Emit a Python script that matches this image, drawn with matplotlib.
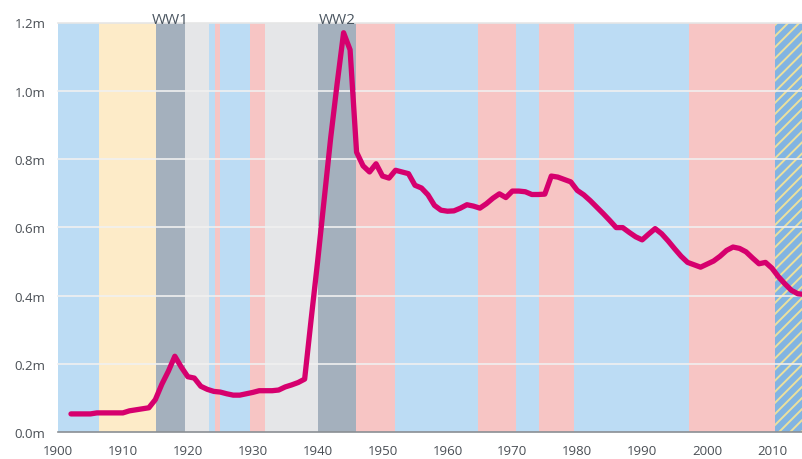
#!/usr/bin/env python3
"""Line chart over shaded government periods, 1900-2015."""

import matplotlib

matplotlib.use("Agg")
import matplotlib.pyplot as plt
from matplotlib.ticker import FuncFormatter

plt.rcParams["font.family"] = ["Open Sans", "DejaVu Sans"]
plt.rcParams["hatch.linewidth"] = 1.4

years = list(range(1902, 2016))
values = [
    0.053, 0.053, 0.053, 0.053, 0.056, 0.056, 0.056, 0.056, 0.056, 0.062,  # 1902-1911
    0.065, 0.068, 0.071, 0.095, 0.140, 0.178, 0.222, 0.190, 0.162, 0.158,  # 1912-1921
    0.134, 0.125, 0.119, 0.117, 0.112, 0.108, 0.108, 0.112, 0.116, 0.121,  # 1922-1931
    0.121, 0.121, 0.123, 0.132, 0.138, 0.145, 0.155, 0.330, 0.500, 0.680,  # 1932-1941
    0.860, 1.020, 1.170, 1.120, 0.820, 0.780, 0.762, 0.786, 0.750, 0.744,  # 1942-1951
    0.767, 0.762, 0.757, 0.723, 0.715, 0.695, 0.664, 0.650, 0.647, 0.648,  # 1952-1961
    0.656, 0.666, 0.662, 0.656, 0.669, 0.685, 0.698, 0.687, 0.706, 0.706,  # 1962-1971
    0.704, 0.696, 0.696, 0.697, 0.750, 0.747, 0.740, 0.733, 0.708, 0.695,  # 1972-1981
    0.678, 0.659, 0.640, 0.620, 0.599, 0.599, 0.585, 0.572, 0.563, 0.580,  # 1982-1991
    0.596, 0.581, 0.560, 0.537, 0.515, 0.497, 0.490, 0.483, 0.492, 0.501,  # 1992-2001
    0.515, 0.532, 0.542, 0.538, 0.528, 0.510, 0.493, 0.497, 0.480, 0.455,  # 2002-2011
    0.434, 0.415, 0.405, 0.403,                                            # 2012-2015
]

# government periods: (start, end, kind)
period_starts = [1900.0, 1906.33, 1915.08, 1919.54, 1923.23, 1924.25, 1924.92, 1929.52,
                 1931.83, 1940.08, 1945.96, 1951.95, 1964.74, 1970.54, 1974.07, 1979.45,
                 1997.27, 2010.48]
period_ends = period_starts[1:] + [2016.0]
period_kinds = ["con", "lib", "war", "coal", "con", "lab", "con", "lab",
                "coal", "war", "lab", "con", "lab", "con", "lab", "con",
                "lab", "libcon"]

war_labels = ["WW1", "WW2"]

colors = {
    "con": "#bcdcf4",
    "lab": "#f7c5c4",
    "lib": "#fdebc8",
    "war": "#a4b0bd",
    "coal": "#e5e6e8",
}

fig = plt.figure(figsize=(8.03, 4.60), dpi=100)
ax = fig.add_axes([58 / 803, 1 - 433 / 460, 1 - 58 / 803, (433 - 23.5) / 460])

war_i = 0
for start, end, kind in zip(period_starts, period_ends, period_kinds):
    if kind == "libcon":
        ax.axvspan(start, end, facecolor="#82b4e2", edgecolor="#ece09c",
                   hatch="///", linewidth=0, zorder=0)
    else:
        ax.axvspan(start, end, color=colors[kind], linewidth=0, zorder=0)
    if kind == "war":
        ax.annotate(war_labels[war_i], xy=((start + end) / 2, 1.2), xytext=(0, 1.8),
                    textcoords="offset points", ha="center", va="center",
                    fontsize=11, color="#4a5560", zorder=5)
        war_i += 1

for yv in [0.2, 0.4, 0.6, 0.8, 1.0, 1.2]:
    ax.axhline(yv, color="#f0f0f0" if yv < 1.2 else "#e6e6e6", lw=1.2, zorder=1,
               clip_on=False)

ax.plot(years, values, color="#d6006e", lw=3.8, solid_joinstyle="round",
        solid_capstyle="round", zorder=3)

ax.set_xlim(1900.34, 2014.78)
ax.set_ylim(0, 1.2)
ax.set_xticks(range(1900, 2011, 10))
ax.set_yticks([0, 0.2, 0.4, 0.6, 0.8, 1.0, 1.2])
ax.yaxis.set_major_formatter(FuncFormatter(lambda v, _: f"{v:.1f}m"))
ax.tick_params(length=0, labelsize=9.5, colors="#4a4f55")
ax.tick_params(axis="x", pad=9)
ax.tick_params(axis="y", pad=9)

for side in ["top", "right", "left"]:
    ax.spines[side].set_visible(False)
ax.spines["bottom"].set_color("#8a8f94")
ax.spines["bottom"].set_linewidth(1.2)
ax.spines["bottom"].set_zorder(4)

fig.savefig("out.png", dpi=100)
